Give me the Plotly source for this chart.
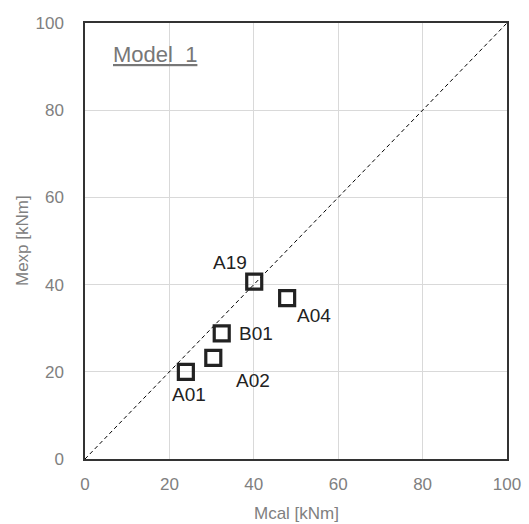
import plotly.graph_objects as go

names = ["A01", "A02", "B01", "A19", "A04"]
mcal = [23.9, 30.4, 32.4, 40.1, 47.9]
mexp = [20.0, 23.2, 28.8, 40.7, 36.9]
ticks = [0, 20, 40, 60, 80, 100]
# label pixel offsets (dx, dy) relative to marker
offsets = {"A01": (3, -23), "A02": (40, -23), "B01": (34, 0), "A19": (-24, 19), "A04": (27, -17)}

FONT = "Liberation Sans, Arial"
fig = go.Figure()
fig.add_trace(go.Scatter(x=[0, 100], y=[0, 100], mode="lines",
                         line=dict(color="black", width=1, dash="4px,3px"),
                         hoverinfo="skip", showlegend=False))
fig.add_trace(go.Scatter(x=mcal, y=mexp, mode="markers",
                         marker=dict(symbol="square-open", size=15, color="#222222",
                                     line=dict(width=3.2, color="#222222")),
                         showlegend=False))
for n, xv, yv in zip(names, mcal, mexp):
    dx, dy = offsets[n]
    fig.add_annotation(x=xv, y=yv, text=n, showarrow=False, xshift=dx, yshift=dy,
                       font=dict(family=FONT, size=19, color="#222222"))

fig.add_annotation(x=16.6, y=92.7, text="<u>Model  1</u>", showarrow=False,
                   font=dict(family=FONT, size=22, color="#777777"))

title_font = dict(family=FONT, size=17, color="#808080")
fig.add_annotation(xref="paper", yref="paper", x=0.5, y=0, yshift=-44, text="Mcal [kNm]",
                   xanchor="center", yanchor="top", showarrow=False, font=title_font,
                   borderpad=0)
fig.add_annotation(xref="paper", yref="paper", x=0, y=0.5, xshift=-63, text="Mexp [kNm]",
                   xanchor="center", yanchor="middle", textangle=-90, showarrow=False,
                   font=title_font)

axis_common = dict(range=[0, 100], tickvals=ticks, showgrid=True, gridcolor="#d9d9d9",
                   gridwidth=1, zeroline=False, showline=True, linecolor="#333333",
                   linewidth=1.5, mirror=True, automargin=False,
                   tickfont=dict(family=FONT, size=17, color="#808080"),
                   ticks="outside", tickcolor="rgba(0,0,0,0)")
fig.update_xaxes(**axis_common, ticklen=9)
fig.update_yaxes(**axis_common, ticklen=16)

fig.update_layout(width=529, height=524, margin=dict(l=85, r=22, t=23, b=65),
                  plot_bgcolor="white", paper_bgcolor="white")
fig.write_html("out.html")
